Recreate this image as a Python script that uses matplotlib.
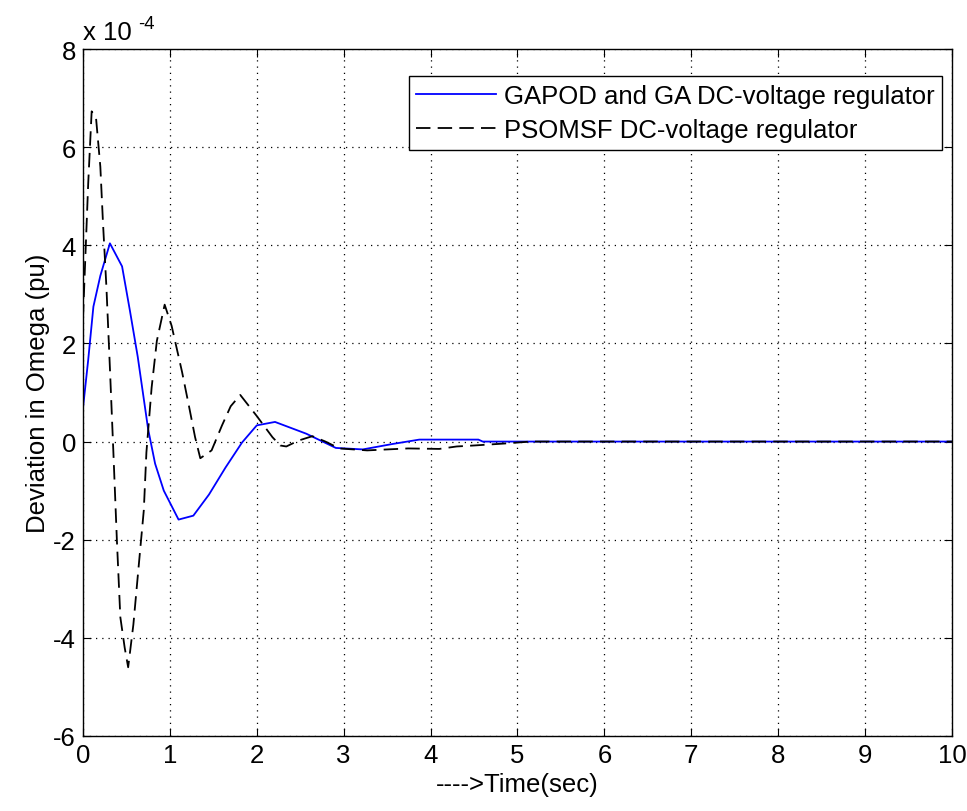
import matplotlib
matplotlib.use("Agg")
import matplotlib.pyplot as plt

# values, deviation in units of 1e-4 pu
t_gapod = [0, 0.06, 0.12, 0.2, 0.31, 0.45, 0.54, 0.63, 0.75, 0.83, 0.93, 1.1,
           1.27, 1.45, 1.64, 1.83, 2.0, 2.21, 2.57, 2.91, 3.22, 3.56, 3.87,
           4.55, 4.6, 10]
w_gapod = [0.68, 1.66, 2.75, 3.38, 4.04, 3.57, 2.67, 1.73, 0.25, -0.45, -1.0,
           -1.59, -1.51, -1.08, -0.53, -0.02, 0.33, 0.40, 0.16, -0.13, -0.16,
           -0.05, 0.04, 0.04, 0.0, 0.0]

t_psomsf = [0, 0.06, 0.1, 0.15, 0.2, 0.23, 0.27, 0.31, 0.35, 0.39, 0.43, 0.48,
            0.52, 0.58, 0.64, 0.7, 0.73, 0.79, 0.85, 0.94, 1.02, 1.08, 1.14,
            1.22, 1.29, 1.35, 1.48, 1.6, 1.7, 1.81, 2.0, 2.18, 2.27, 2.34, 2.48,
            2.64, 2.79, 2.95, 3.27, 3.74, 4.1, 4.3, 4.5, 4.85, 5.15, 10]
w_psomsf = [2.5, 5.25, 6.73, 6.6, 5.6, 4.47, 3.14, 1.5, -0.22, -2.0, -3.58,
            -4.2, -4.6, -3.73, -2.56, -1.4, -0.22, 1.1, 2.05, 2.79, 2.36, 1.89,
            1.42, 0.72, 0.09, -0.34, -0.18, 0.33, 0.72, 0.95, 0.52, 0.09, -0.08,
            -0.1, 0.02, 0.11, 0.0, -0.14, -0.18, -0.14, -0.15, -0.1, -0.08,
            -0.04, 0.0, 0.0]

labels = ["GAPOD and GA DC-voltage regulator", "PSOMSF DC-voltage regulator"]

FS = 18.5
plt.rcParams["font.family"] = ["Liberation Sans", "DejaVu Sans"]
plt.rcParams["font.size"] = FS
plt.rcParams["axes.unicode_minus"] = False

fig = plt.figure(figsize=(9.67, 8.12), dpi=100)
ax = fig.add_axes([0.0858, 0.0924, 0.8987, 0.846])

ax.plot(t_gapod, w_gapod, color="#0000ff", lw=1.3, label=labels[0])
ax.plot(t_psomsf, w_psomsf, color="black", lw=1.3, dashes=(8, 4),
        label=labels[1])

ax.set_xlim(0, 10)
ax.set_ylim(-6, 8)
ax.set_xticks(range(0, 11))
ax.set_yticks(range(-6, 9, 2))
ax.grid(True, color="black", linestyle=(0, (1, 4)), lw=0.9)
ax.tick_params(direction="in", top=True, right=True, length=6, width=0.8,
               labelsize=FS, pad=5)
for s in ax.spines.values():
    s.set_linewidth(1.0)

# MATLAB style exponent label above the y axis
ax.text(0.0, 1.008, "x 10", transform=ax.transAxes, fontsize=FS,
        ha="left", va="bottom")
ax.text(0.063, 1.025, "-4", transform=ax.transAxes, fontsize=FS * 0.72,
        ha="left", va="bottom")

ax.set_xlabel("---->Time(sec)", fontsize=FS, labelpad=4)
ax.set_ylabel("Deviation in Omega (pu)", fontsize=FS, labelpad=2)

leg = ax.legend(loc="upper right", bbox_to_anchor=(0.9885, 0.961),
                fancybox=False, framealpha=1, edgecolor="black",
                fontsize=FS, handlelength=3.1, borderpad=0.3,
                labelspacing=0.4, handletextpad=0.3, borderaxespad=0)
leg.get_frame().set_linewidth(1.0)

fig.savefig("out.png", dpi=100)
